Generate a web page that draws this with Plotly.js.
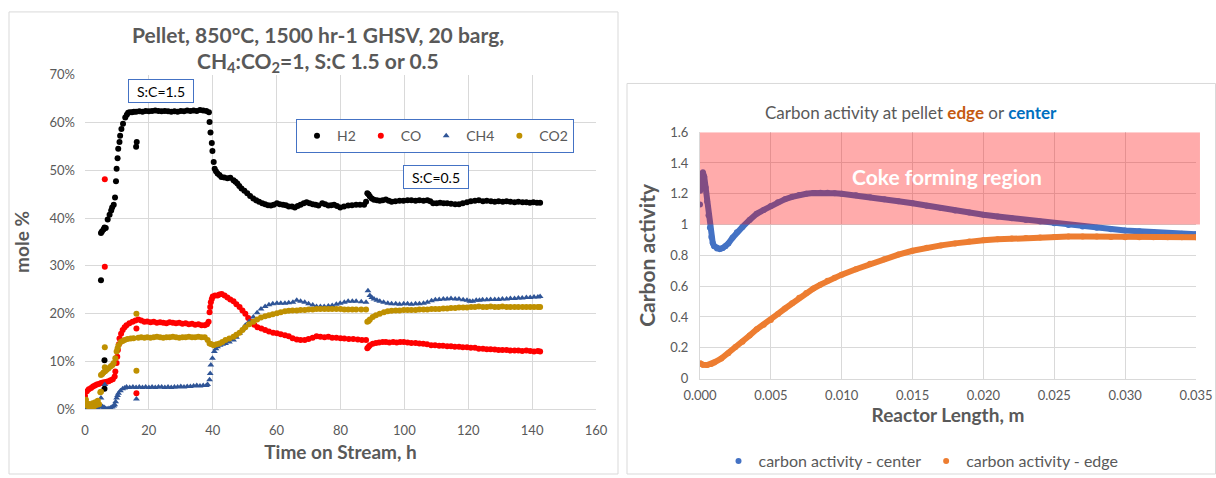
<!DOCTYPE html>
<html>
<head>
<meta charset="utf-8">
<script src="https://cdn.plot.ly/plotly-3.0.1.min.js"></script>
<style>html,body{margin:0;padding:0;background:#fff;}#chart{width:1216px;height:478px;}</style>
</head>
<body>
<div id="chart"></div>
<script>
// ---------- Left chart data: [time on stream (h), mole %] ----------
const h2Points = [[0,0],[5.0,27.0],[5.0,36.9],[5.3,37.2],[5.8,37.6],[6.1,38.0],[6.1,10.3],[6.1,4.3],[6.5,37.9],[7.1,39.7],[7.7,40.7],[8.2,41.6],[8.5,42.2],[9.0,42.8],[9.4,44.3],[9.7,47.7],[9.9,50.3],[10.2,52.5],[10.4,54.5],[10.8,55.9],[11.0,57.2],[11.4,58.6],[11.9,59.7],[12.6,61.0],[13.1,61.6],[13.5,62.0],[14.0,62.1],[14.7,62.1],[15.3,62.2],[16.0,54.9],[16.2,55.9],[16.0,62.2],[17,62.3],[18,62.2],[19,62.4],[20,62.3],[21,62.4],[22,62.5],[23,62.4],[24,62.3],[25,62.4],[26,62.3],[27,62.2],[28,62.3],[29,62.2],[30,62.4],[31,62.3],[32,62.5],[33,62.4],[34,62.5],[35,62.4],[36,62.6],[37,62.5],[38,62.4],[38.8,62.1],[39.0,60.1],[39.3,57.9],[39.7,55.7],[39.9,54.0],[40.3,51.7],[40.6,50.3],[41.0,49.8],[41.5,49.3],[42.1,49.0],[42.7,48.6],[43.6,48.5],[44.6,48.3],[45.5,48.4],[46.5,47.9],[47.1,47.6],[47.7,47.2],[48.3,46.7],[49.0,46.2],[49.9,45.7],[50.8,45.2],[51.7,44.6],[52.7,44.1],[53.6,43.7],[54.5,43.4],[55.5,43.1],[56.4,42.9],[57.3,42.7],[58.2,42.6],[59.1,42.8],[60.1,43.1],[61.0,42.9],[62.0,42.8],[62.9,42.7],[63.8,42.4],[64.8,42.4],[65.7,42.2],[66.6,42.5],[67.5,42.8],[68.5,43.1],[69.4,43.3],[70.3,43.1],[71.3,42.9],[72.2,42.8],[73.1,42.6],[74.3,43.1],[75.2,42.9],[76.2,42.6],[77.1,42.7],[78.0,42.8],[78.9,42.5],[79.9,42.2],[81.1,42.4],[82.4,42.6],[83.6,42.7],[84.9,42.8],[86.1,42.8],[87.4,42.8],[88.0,43.4],[88.4,45.2],[88.8,44.9],[89.2,44.5],[89.8,44.1],[90.5,43.8],[91.4,43.7],[92.3,43.6],[93.2,43.7],[94.2,43.9],[95.1,43.6],[96.0,43.4],[97.2,43.5],[98.5,43.6],[99.7,43.6],[101.0,43.7],[102.2,43.7],[103.5,43.6],[104.7,43.7],[106.0,43.6],[107.2,43.7],[108.1,43.5],[109.0,43.1],[110.1,43.1],[111.2,43.2],[112.3,43.1],[113.4,43.1],[114.6,43.0],[115.9,42.9],[117.1,42.9],[118.3,43.1],[119.6,43.3],[120.8,43.5],[122.1,43.6],[123.3,43.7],[124.6,43.5],[125.8,43.6],[127.1,43.5],[128.3,43.4],[129.5,43.5],[130.8,43.4],[132.0,43.5],[133.2,43.4],[134.5,43.3],[135.7,43.4],[137.0,43.3],[138.2,43.3],[139.3,43.2],[140.4,43.3],[141.5,43.2],[142.5,43.2]];

const coPoints = [[0,2.8],[0.6,3.8],[1.2,4.2],[1.9,4.5],[2.5,4.8],[3.1,5.0],[3.7,5.2],[4.3,5.3],[5.0,5.5],[5.6,5.6],[6.2,5.7],[6.2,48.1],[6.2,29.8],[6.8,5.8],[7.4,5.9],[8.0,6.1],[8.7,6.3],[9.3,6.9],[9.5,7.9],[9.9,9.7],[10.1,11.0],[10.3,12.4],[10.6,13.6],[10.8,14.8],[11.3,15.8],[11.8,16.6],[12.4,17.2],[13.0,17.6],[13.9,18.0],[14.9,18.3],[15.8,18.6],[16.1,16.9],[16.1,3.4],[16.7,18.8],[17.6,18.6],[18.6,18.3],[19.5,18.4],[20.5,18.2],[21.5,18.3],[22.5,18.1],[23.5,18.2],[24.5,18.1],[25.5,18.0],[26.5,18.2],[27.5,18.1],[28.5,18.0],[29.5,18.1],[30.5,17.9],[31.5,18.0],[32.5,17.8],[33.5,17.9],[34.5,17.7],[35.5,17.8],[36.5,17.6],[37.5,17.6],[38.2,17.8],[38.7,18.3],[39.0,20.3],[39.2,21.4],[39.4,22.4],[39.7,23.1],[40.0,23.6],[40.7,23.8],[41.5,23.8],[42.1,24.0],[42.8,24.1],[43.7,23.8],[44.6,23.4],[45.5,23.0],[46.5,22.6],[47.4,22.0],[48.4,21.4],[49.3,20.7],[50.2,20.0],[51.1,19.1],[52.1,18.3],[53.0,17.7],[54.0,17.2],[55.2,16.9],[56.4,16.6],[57.6,16.3],[58.9,16.0],[60.1,15.9],[61.3,15.7],[62.6,15.5],[63.8,15.3],[65.0,14.9],[66.3,14.6],[67.5,14.5],[68.8,14.5],[70.0,14.7],[71.3,15.0],[72.5,15.3],[73.7,15.2],[75.0,15.1],[76.2,15.2],[77.4,15.0],[78.7,15.0],[80.0,14.9],[81.2,14.8],[82.6,14.7],[84.0,14.7],[85.4,14.6],[86.7,14.5],[88.0,14.5],[88.4,12.8],[88.8,13.1],[89.2,13.4],[90.1,13.7],[91.1,13.9],[92.1,14.0],[93.2,14.1],[94.2,14.1],[95.3,14.0],[96.5,14.1],[97.6,14.0],[98.7,14.1],[99.8,14.1],[101.0,14.0],[102.2,13.9],[103.5,13.9],[104.7,13.8],[105.9,13.7],[107.1,13.6],[108.4,13.4],[109.6,13.4],[110.9,13.3],[112.1,13.3],[113.4,13.2],[114.6,13.2],[115.8,13.1],[117.1,13.1],[118.3,13.0],[119.6,13.0],[120.8,12.9],[122.1,12.9],[123.3,12.7],[124.6,12.7],[125.8,12.6],[127.0,12.6],[128.3,12.5],[129.5,12.4],[130.7,12.4],[132.0,12.4],[133.2,12.3],[134.5,12.3],[135.7,12.3],[136.9,12.2],[138.2,12.3],[139.4,12.2],[140.6,12.1],[141.8,12.2],[142.5,12.1]];

const ch4Points = [[0,0.2],[0.5,0.0],[1,0.4],[1.5,0.2],[2,0.1],[2.5,0.3],[3,0.2],[3.5,0.4],[4,0.3],[4.5,0.5],[5,2.4],[5.5,0.6],[6,0.4],[6.2,5.2],[6.5,0.2],[7,0.1],[7.5,0.2],[8,0.3],[8.5,0.5],[9,0.7],[9.3,1.0],[9.6,1.6],[9.9,2.4],[10.2,2.9],[10.5,3.4],[11.1,3.9],[11.8,4.3],[12.4,4.5],[13,4.7],[14,4.6],[15,4.7],[16,4.6],[16.1,2.2],[17,4.7],[18,4.6],[19,4.7],[20,4.6],[21,4.7],[22,4.6],[23,4.7],[24,4.7],[25,4.6],[26,4.7],[27,4.6],[28,4.7],[29,4.7],[30,4.8],[31,4.7],[32,4.8],[33,4.8],[34,4.9],[35,5.0],[36,4.9],[37,5.0],[38,5.0],[38.4,5.2],[39,6.2],[39.2,7.5],[39.4,9.3],[39.9,10.7],[40.5,12.1],[41,12.7],[41.5,13.1],[42.3,13.4],[43.1,13.6],[44,13.8],[45.2,14.1],[46.5,14.5],[47.4,15.1],[48.4,15.9],[49.3,16.7],[50.2,17.6],[51.4,18.4],[52.7,19.3],[53.9,20.2],[55.1,21.0],[56.4,21.5],[57.6,21.9],[58.8,22.1],[60.1,22.2],[61.3,22.2],[62.6,22.2],[63.8,22.3],[65.1,22.4],[66.3,22.8],[67.5,22.6],[68.8,22.4],[70.0,22.1],[71.3,21.8],[72.5,21.5],[73.7,21.5],[74.9,21.5],[76.2,21.6],[77.4,21.7],[78.7,22.0],[79.9,22.2],[81.2,22.4],[82.4,22.6],[83.7,22.6],[84.9,22.6],[86.5,22.5],[88.0,22.4],[88.6,24.8],[89.2,23.8],[89.8,23.4],[90.5,23.1],[91.4,22.8],[92.3,22.6],[93.5,22.4],[94.8,22.2],[96.0,22.1],[97.3,22.1],[98.5,22.0],[99.8,22.1],[101.0,22.1],[102.2,22.0],[103.5,22.1],[104.7,22.1],[106.0,22.2],[107.2,22.4],[108.5,22.7],[109.7,22.9],[110.9,23.0],[112.2,23.1],[113.4,23.1],[114.6,23.2],[115.9,23.1],[117.1,23.1],[118.4,22.9],[119.6,22.8],[120.5,22.6],[121.4,22.6],[122.5,22.8],[123.5,22.8],[124.5,22.9],[125.8,22.9],[127.0,23.0],[128.3,23.0],[129.5,23.0],[130.7,23.1],[132.0,23.1],[133.2,23.2],[134.5,23.2],[135.7,23.3],[136.9,23.3],[138.2,23.4],[139.4,23.4],[140.6,23.5],[141.8,23.5],[142.5,23.6]];

const co2Points = [[0,1.5],[0.3,2.0],[0.6,0.8],[1,1.2],[1.3,0.5],[1.7,1.0],[2,0.4],[2.4,1.3],[2.8,0.6],[3.2,1.5],[3.6,0.9],[4,1.8],[4.4,1.1],[4.8,3.6],[5.0,3.7],[5.0,7.2],[5.4,7.4],[5.8,7.7],[6.2,13.0],[6.2,8.8],[6.3,8.0],[6.8,8.3],[7.4,8.6],[8.1,9.0],[8.6,9.3],[9.0,9.7],[9.5,10.7],[9.9,12.1],[10.2,12.8],[10.5,13.4],[11.2,14.1],[11.8,14.3],[12.4,14.5],[13.3,14.7],[14.3,14.8],[15.2,14.9],[16.1,20.0],[16.1,8.1],[16.7,15.0],[17.6,15.1],[18.6,15.0],[19.5,15.1],[20.5,15.0],[21.5,15.1],[22.5,15.2],[23.5,15.1],[24.5,15.0],[25.5,15.1],[26.5,15.1],[27.5,15.2],[28.5,15.1],[29.5,15.0],[30.5,15.1],[31.5,15.1],[32.5,15.2],[33.5,15.1],[34.5,15.1],[35.5,15.2],[36.5,15.1],[37.5,15.1],[38.4,14.5],[39.0,13.8],[39.6,13.6],[40.3,13.4],[41.2,13.6],[42.1,13.8],[43.0,14.1],[44.0,14.5],[45.2,14.8],[46.5,15.2],[47.4,15.6],[48.4,16.0],[49.3,16.6],[50.2,17.2],[51.4,17.8],[52.7,18.3],[53.9,18.8],[55.1,19.2],[56.4,19.5],[57.6,19.7],[58.8,19.9],[60.1,20.1],[61.3,20.3],[62.6,20.5],[63.8,20.6],[65.0,20.7],[66.3,20.7],[67.5,20.8],[68.8,20.8],[70.0,20.9],[71.3,20.9],[72.5,21.0],[73.7,21.0],[75.0,21.0],[76.2,21.0],[77.4,21.0],[78.7,21.0],[80.0,21.0],[81.2,20.9],[82.4,20.9],[83.7,20.9],[84.9,20.9],[86.5,20.9],[88.0,20.9],[88.4,18.3],[88.8,18.5],[89.2,18.8],[90.1,19.3],[91.1,19.7],[92.3,20.0],[93.6,20.3],[94.8,20.5],[96.0,20.6],[97.3,20.7],[98.5,20.7],[99.8,20.8],[101.0,20.8],[102.2,20.8],[103.5,20.8],[104.7,20.9],[106.0,20.9],[107.2,20.9],[108.5,21.0],[109.7,21.0],[110.9,21.0],[112.2,21.1],[113.4,21.1],[114.6,21.2],[115.9,21.2],[117.1,21.3],[118.4,21.3],[119.6,21.3],[120.9,21.4],[122.1,21.4],[123.3,21.5],[124.6,21.4],[125.8,21.4],[127.0,21.5],[128.3,21.4],[129.5,21.4],[130.7,21.5],[132.0,21.4],[133.2,21.4],[134.5,21.4],[135.7,21.4],[137.0,21.4],[138.2,21.4],[139.4,21.4],[140.6,21.4],[141.8,21.4],[142.5,21.4]];

const leftSeriesNames = ["H2", "CO", "CH4", "CO2"];
const leftXTicks = [0, 20, 40, 60, 80, 100, 120, 140, 160];
const leftYTicks = [0, 10, 20, 30, 40, 50, 60, 70];
const leftYTickText = ["0%", "10%", "20%", "30%", "40%", "50%", "60%", "70%"];

// ---------- Right chart data: [reactor length (m), carbon activity] ----------
const centerPoints = [[0,1.13],[0,null],[0.00002,1.22],[0.00006,1.28],[0.00012,1.32],[0.0002,1.34],[0.0003,1.31],[0.0004,1.24],[0.0005,1.15],[0.0006,1.06],[0.0007,0.98],[0.0008,0.92],[0.0009,0.88],[0.0010,0.86],[0.0012,0.845],[0.0014,0.842],[0.0016,0.848],[0.0018,0.86],[0.0020,0.877],[0.0023,0.915],[0.0026,0.95],[0.0030,0.985],[0.0035,1.03],[0.0040,1.07],[0.0045,1.095],[0.0050,1.12],[0.0055,1.145],[0.0060,1.165],[0.0065,1.18],[0.0070,1.192],[0.0075,1.2],[0.0080,1.205],[0.0085,1.207],[0.0090,1.206],[0.0095,1.204],[0.0100,1.2],[0.0110,1.19],[0.0120,1.178],[0.0130,1.165],[0.0140,1.152],[0.0150,1.138],[0.0160,1.122],[0.0170,1.107],[0.0180,1.092],[0.0190,1.078],[0.0200,1.064],[0.0210,1.052],[0.0220,1.041],[0.0230,1.03],[0.0240,1.02],[0.0250,1.008],[0.0260,0.998],[0.0270,0.988],[0.0280,0.979],[0.0290,0.97],[0.0300,0.962],[0.0310,0.956],[0.0320,0.95],[0.0330,0.945],[0.0340,0.94],[0.0350,0.937]];

const edgePoints = [[0,0.10],[0.0002,0.09],[0.0005,0.088],[0.0008,0.095],[0.001,0.105],[0.0015,0.13],[0.002,0.165],[0.0025,0.205],[0.003,0.24],[0.0035,0.28],[0.004,0.32],[0.0045,0.35],[0.005,0.38],[0.0055,0.42],[0.006,0.455],[0.0065,0.49],[0.007,0.525],[0.0075,0.556],[0.008,0.585],[0.0085,0.61],[0.009,0.635],[0.0095,0.655],[0.010,0.675],[0.011,0.71],[0.012,0.745],[0.013,0.775],[0.014,0.805],[0.015,0.83],[0.016,0.85],[0.017,0.865],[0.018,0.878],[0.019,0.89],[0.020,0.898],[0.021,0.904],[0.022,0.909],[0.023,0.913],[0.024,0.916],[0.025,0.92],[0.026,0.922],[0.027,0.923],[0.028,0.922],[0.029,0.92],[0.030,0.918],[0.031,0.917],[0.032,0.917],[0.033,0.917],[0.034,0.917],[0.035,0.917]];

const rightSeriesNames = ["carbon activity - center", "carbon activity - edge"];
const rightXTicks = [0, 0.005, 0.010, 0.015, 0.020, 0.025, 0.030, 0.035];
const rightYTicks = [0, 0.2, 0.4, 0.6, 0.8, 1, 1.2, 1.4, 1.6];
const cokeRegion = [1.0, 1.6];

// ---------- build ----------
const W = 1216, H = 478;
const px = v => v / W;
const py = v => 1 - v / H;
const FONT = "Lato, 'Open Sans', sans-serif";
const GREY = "#595959";
const GRID = "#d9d9d9";

const xs = a => a.map(p => p[0]);
const ys = a => a.map(p => p[1]);

const leftData = [h2Points, coPoints, ch4Points, co2Points];
const leftColors = ["#000000", "#FF0000", "#2F5597", "#BF9000"];
const leftSymbols = ["circle", "circle", "triangle-up", "circle"];

const traces = [];
leftData.forEach((d, i) => {
  traces.push({
    type: "scatter", mode: "markers", name: leftSeriesNames[i],
    x: xs(d), y: ys(d), xaxis: "x", yaxis: "y", legend: "legend",
    marker: {color: leftColors[i], size: 6, symbol: leftSymbols[i]}
  });
});

const rightData = [centerPoints, edgePoints];
const rightColors = ["#4472C4", "#ED7D31"];
rightData.forEach((d, i) => {
  traces.push({
    type: "scatter", mode: "lines", name: rightSeriesNames[i], showlegend: false,
    x: xs(d), y: ys(d), xaxis: "x2", yaxis: "y2", legend: "legend2",
    line: {color: rightColors[i], width: 6}
  });
  traces.push({
    type: "scatter", mode: "markers", name: rightSeriesNames[i],
    x: xs(d), y: ys(d), xaxis: "x2", yaxis: "y2", legend: "legend2",
    marker: {color: rightColors[i], size: 6}
  });
});

const axisCommon = {
  showgrid: true, gridcolor: GRID, gridwidth: 1,
  showline: true, linecolor: GRID, linewidth: 1,
  zeroline: false, ticks: "", fixedrange: true,
  tickfont: {family: FONT, size: 13, color: GREY}
};

const layout = {
  width: W, height: H,
  margin: {l: 0, r: 0, t: 0, b: 0},
  paper_bgcolor: "#ffffff", plot_bgcolor: "#ffffff",
  font: {family: FONT, color: GREY},
  xaxis: Object.assign({}, axisCommon, {
    domain: [px(85), px(596)], range: [0, 160], tickvals: leftXTicks,
    anchor: "y", ticklabelstandoff: 9,
    title: {text: "<b>Time on Stream, h</b>", font: {family: FONT, size: 19, color: GREY}, standoff: 8}
  }),
  yaxis: Object.assign({}, axisCommon, {
    domain: [py(412), py(75)], range: [0, 70], tickvals: leftYTicks, ticktext: leftYTickText,
    anchor: "x", ticklabelstandoff: 9, showline: false,
    title: {text: "<b>mole %</b>", font: {family: FONT, size: 19, color: GREY}, standoff: 14}
  }),
  xaxis2: Object.assign({}, axisCommon, {
    domain: [px(700), px(1196)], range: [0, 0.035], tickvals: rightXTicks, tickformat: ".3f",
    anchor: "y2", ticklabelstandoff: 5,
    title: {text: "<b>Reactor Length, m</b>", font: {family: FONT, size: 19, color: GREY}, standoff: 6}
  }),
  yaxis2: Object.assign({}, axisCommon, {
    domain: [py(381), py(133)], range: [0, 1.6], tickvals: rightYTicks,
    anchor: "x2", ticklabelstandoff: 8,
    title: {text: "<b>Carbon activity</b>", font: {family: FONT, size: 21, color: GREY}, standoff: 8}
  }),
  legend: {
    orientation: "h", traceorder: "normal", x: px(296), y: py(120), xanchor: "left", yanchor: "top",
    bgcolor: "#ffffff", bordercolor: "#4472C4", borderwidth: 1,
    font: {family: FONT, size: 14, color: GREY}
  },
  legend2: {
    orientation: "h", traceorder: "normal", x: px(921), y: py(464), xanchor: "center", yanchor: "middle",
    bgcolor: "rgba(0,0,0,0)", borderwidth: 0,
    font: {family: FONT, size: 16, color: GREY}
  },
  shapes: [
    {type: "rect", xref: "paper", yref: "paper", x0: px(9), x1: px(618), y0: py(477), y1: py(12),
     line: {color: GRID, width: 1}, fillcolor: "rgba(0,0,0,0)", layer: "below"},
    {type: "rect", xref: "paper", yref: "paper", x0: px(627), x1: px(1215.5), y0: py(477), y1: py(84),
     line: {color: GRID, width: 1}, fillcolor: "rgba(0,0,0,0)", layer: "below"},
    {type: "rect", xref: "x2 domain", yref: "y2", x0: 0, x1: 1.008, y0: cokeRegion[0], y1: cokeRegion[1],
     line: {width: 0}, fillcolor: "rgba(255,0,0,0.33)", layer: "above"}
  ],
  annotations: [
    {xref: "paper", yref: "paper", x: px(318), y: py(35), xanchor: "center", yanchor: "middle", showarrow: false,
     text: "<b>Pellet, 850°C, 1500 hr-1 GHSV, 20 barg,</b>", font: {family: FONT, size: 21, color: GREY}},
    {xref: "paper", yref: "paper", x: px(318), y: py(62), xanchor: "center", yanchor: "middle", showarrow: false,
     text: "<b>CH<sub>4</sub>:CO<sub>2</sub>=1, S:C 1.5 or 0.5</b>", font: {family: FONT, size: 21, color: GREY}},
    {xref: "paper", yref: "paper", x: px(911), y: py(113), xanchor: "center", yanchor: "middle", showarrow: false,
     text: "Carbon activity at pellet <b><span style='color:#C55A11'>edge</span></b> or <b><span style='color:#0070C0'>center</span></b>",
     font: {family: FONT, size: 17, color: GREY}},
    {xref: "x2", yref: "y2", x: 0.0174, y: 1.31, showarrow: false, xanchor: "center", yanchor: "middle",
     text: "<b>Coke forming region</b>", font: {family: FONT, size: 21, color: "#ffffff"}},
    {xref: "x", yref: "y", x: 23.8, y: 66.5, showarrow: false, xanchor: "center", yanchor: "middle",
     text: "S:C=1.5", font: {family: FONT, size: 14, color: "#000000"},
     bgcolor: "#ffffff", bordercolor: "#4472C4", borderwidth: 1, width: 62, height: 20},
    {xref: "x", yref: "y", x: 110, y: 48.6, showarrow: false, xanchor: "center", yanchor: "middle",
     text: "S:C=0.5", font: {family: FONT, size: 14, color: "#000000"},
     bgcolor: "#ffffff", bordercolor: "#4472C4", borderwidth: 1, width: 62, height: 20}
  ]
};

Plotly.newPlot("chart", traces, layout, {displayModeBar: false, staticPlot: true});
</script>
</body>
</html>
